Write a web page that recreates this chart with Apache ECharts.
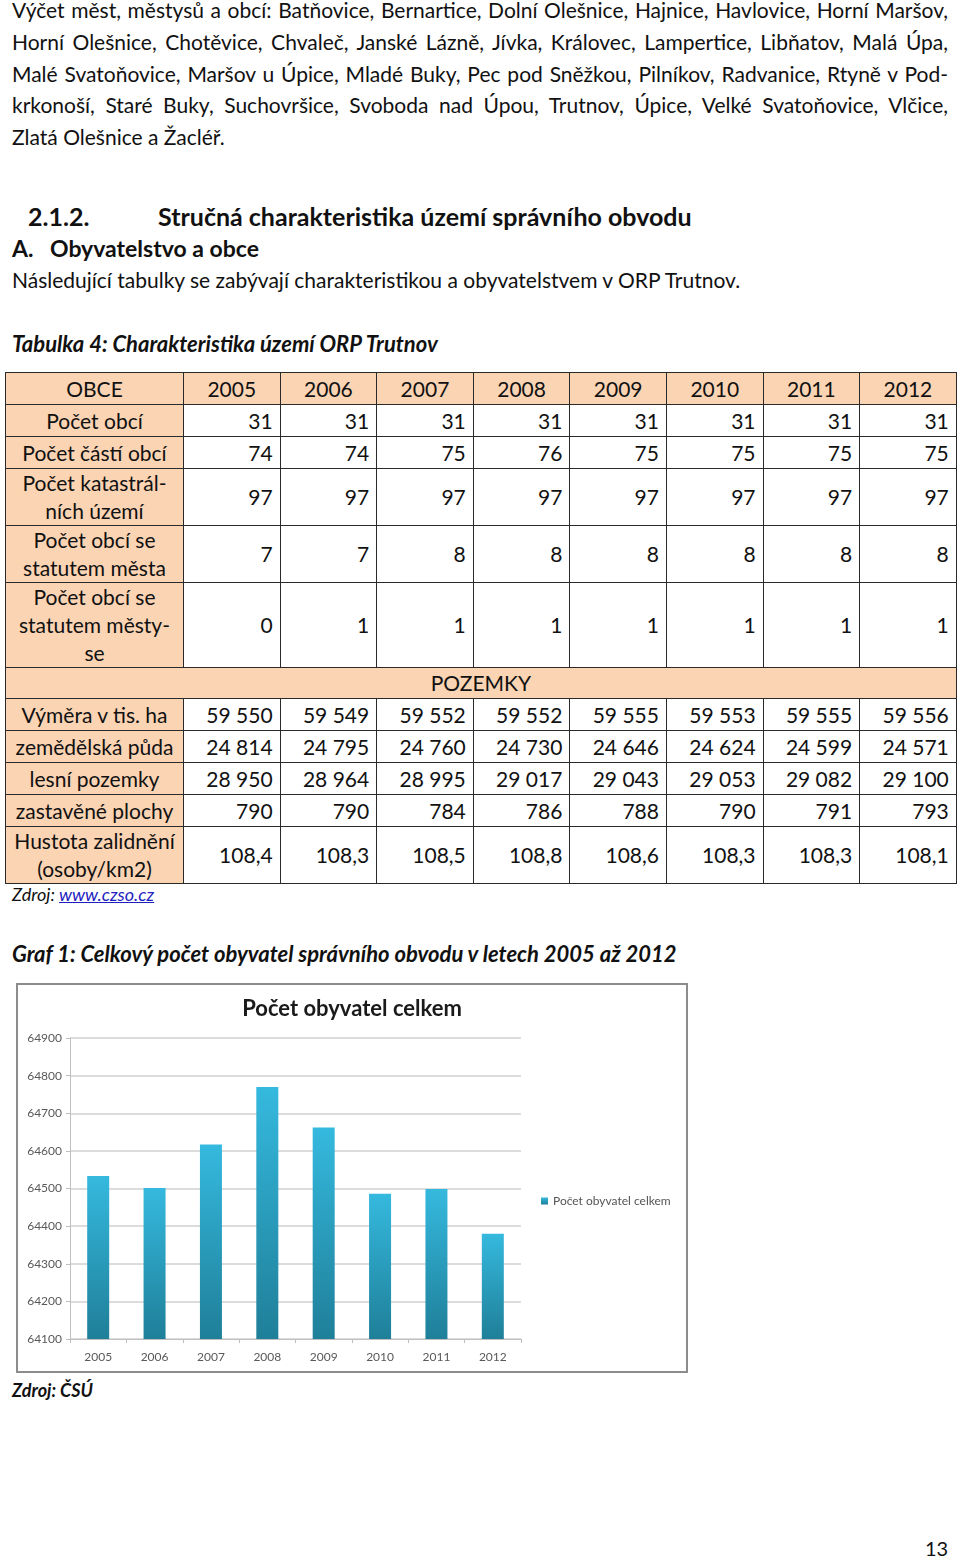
<!DOCTYPE html>
<html>
<head>
<meta charset="utf-8">
<script src="https://cdn.jsdelivr.net/npm/echarts@6/dist/echarts.min.js"></script>
<style>
  html, body { margin:0; padding:0; background:#fff; }
  body { width:960px; height:1557px; position:relative; overflow:hidden; font-family: Lato, "Noto Sans", sans-serif; color:#111; }
  .abs { position:absolute; white-space:nowrap; }
  .pline { position:absolute; left:12px; width:936px; font-size:21px; line-height:32px; text-align:justify; text-align-last:justify; white-space:nowrap; }
  .pline.last { text-align-last:left; }
  table { position:absolute; left:5px; top:372px; width:951px; border-collapse:collapse; table-layout:fixed; font-size:21px; }
  td { border:1.5px solid #2a2a2a; padding:0 7px; line-height:28px; overflow:hidden; }
  td.h { background:#fbd4b4; text-align:center; }
  td.v { text-align:right; }
  td.lab { background:#fbd4b4; text-align:center; white-space:normal; padding:0 1px; }
</style>
</head>
<body>
<div id="para"></div>

<div class="abs" style="left:28px; top:200px; font-size:25px; font-weight:700; line-height:32px;">2.1.2.</div>
<div class="abs" style="left:158px; top:200px; font-size:25px; font-weight:700; line-height:32px;">Stručná charakteristika území správního obvodu</div>
<div class="abs" style="left:12px; top:232px; font-size:23px; font-weight:700; line-height:32px;">A.</div>
<div class="abs" style="left:50px; top:232px; font-size:23px; font-weight:700; line-height:32px;">Obyvatelstvo a obce</div>
<div class="abs" style="left:12px; top:264px; font-size:21px; line-height:32px;">Následující tabulky se zabývají charakteristikou a obyvatelstvem v ORP Trutnov.</div>
<div class="abs" style="left:12px; top:328px; font-size:22px; font-weight:700; font-style:italic; line-height:32px;">Tabulka 4: Charakteristika území ORP Trutnov</div>

<table id="tbl"></table>

<div class="abs" style="left:12px; top:883px; font-size:18px; font-style:italic; line-height:22px;">Zdroj: <span style="color:#1f1fbf; text-decoration:underline;">www.czso.cz</span></div>
<div class="abs" style="left:12px; top:938px; font-size:22px; font-weight:700; font-style:italic; line-height:32px;">Graf 1: Celkový počet obyvatel správního obvodu v letech 2005 až 2012</div>

<div style="position:absolute; left:16px; top:983px; width:668px; height:386px; border:2px solid #8c8c8c;"></div>
<div id="chart" style="position:absolute; left:18px; top:985px; width:668px; height:386px;"></div>

<div class="abs" style="left:12px; top:1379px; font-size:18px; font-weight:700; font-style:italic; line-height:22px;">Zdroj: ČSÚ</div>
<div class="abs" style="left:925px; top:1536px; font-size:20px; line-height:24px;">13</div>

<script>
// ---------- text ----------
const paraLines = [
  "Výčet měst, městysů a obcí: Batňovice, Bernartice, Dolní Olešnice, Hajnice, Havlovice, Horní Maršov,",
  "Horní Olešnice, Chotěvice, Chvaleč, Janské Lázně, Jívka, Královec, Lampertice, Libňatov, Malá Úpa,",
  "Malé Svatoňovice, Maršov u Úpice, Mladé Buky, Pec pod Sněžkou, Pilníkov, Radvanice, Rtyně v Pod-",
  "krkonoší, Staré Buky, Suchovršice, Svoboda nad Úpou, Trutnov, Úpice, Velké Svatoňovice, Vlčice,",
  "Zlatá Olešnice a Žacléř."
];

// ---------- table data ----------
const tableYears = ["2005","2006","2007","2008","2009","2010","2011","2012"];
const obceHeader = "OBCE";
const pozemkyHeader = "POZEMKY";
const obceLabels = ["Počet obcí", "Počet částí obcí", "Počet katastrál-<br>ních území", "Počet obcí se<br>statutem města", "Počet obcí se<br>statutem městy-<br>se"];
const pocetObci = ["31","31","31","31","31","31","31","31"];
const pocetCasti = ["74","74","75","76","75","75","75","75"];
const pocetKatastr = ["97","97","97","97","97","97","97","97"];
const pocetMesta = ["7","7","8","8","8","8","8","8"];
const pocetMestyse = ["0","1","1","1","1","1","1","1"];
const pozemkyLabels = ["Výměra v tis. ha", "zemědělská půda", "lesní pozemky", "zastavěné plochy", "Hustota zalidnění<br>(osoby/km2)"];
const vymera = ["59 550","59 549","59 552","59 552","59 555","59 553","59 555","59 556"];
const zemedelska = ["24 814","24 795","24 760","24 730","24 646","24 624","24 599","24 571"];
const lesni = ["28 950","28 964","28 995","29 017","29 043","29 053","29 082","29 100"];
const zastavene = ["790","790","784","786","788","790","791","793"];
const hustota = ["108,4","108,3","108,5","108,8","108,6","108,3","108,3","108,1"];

// ---------- chart data ----------
const chartTitle = "Počet obyvatel celkem";
const seriesName = "Počet obyvatel celkem";
const chartYears = ["2005","2006","2007","2008","2009","2010","2011","2012"];
const obyvatel = [64533, 64501, 64617, 64770, 64662, 64486, 64499, 64380];

// build paragraph
const para = document.getElementById('para');
paraLines.forEach((t, i) => {
  const d = document.createElement('div');
  d.className = 'pline' + (i === paraLines.length - 1 ? ' last' : '');
  d.style.top = (-6 + i * 31.75) + 'px';
  d.textContent = t;
  para.appendChild(d);
});

// build table
const rowHeights = [32, 32, 32, 57, 57, 84, 31, 32, 32, 32, 32, 57];
const tbl = document.getElementById('tbl');
let html = '<colgroup><col style="width:178px">' + tableYears.map(() => '<col style="width:96.6px">').join('') + '</colgroup>';
let r = 0;
html += '<tr style="height:' + rowHeights[r++] + 'px"><td class="h">' + obceHeader + '</td>' + tableYears.map(y => '<td class="h">' + y + '</td>').join('') + '</tr>';
[pocetObci, pocetCasti, pocetKatastr, pocetMesta, pocetMestyse].forEach((vals, i) => {
  html += '<tr style="height:' + rowHeights[r++] + 'px"><td class="lab">' + obceLabels[i] + '</td>' + vals.map(v => '<td class="v">' + v + '</td>').join('') + '</tr>';
});
html += '<tr style="height:' + rowHeights[r++] + 'px"><td class="h" colspan="9">' + pozemkyHeader + '</td></tr>';
[vymera, zemedelska, lesni, zastavene, hustota].forEach((vals, i) => {
  html += '<tr style="height:' + rowHeights[r++] + 'px"><td class="lab">' + pozemkyLabels[i] + '</td>' + vals.map(v => '<td class="v">' + v + '</td>').join('') + '</tr>';
});
tbl.innerHTML = html;

// chart
const chart = echarts.init(document.getElementById('chart'));
chart.setOption({
  animation: false,
  textStyle: { fontFamily: 'Lato, "Noto Sans", sans-serif' },
  title: {
    text: chartTitle, left: 'center', top: 8,
    textStyle: { fontSize: 22, fontWeight: 'bold', color: '#1a1a1a', fontFamily: 'Lato, sans-serif' }
  },
  legend: {
    data: [seriesName], orient: 'vertical', left: 518, top: 205,
    icon: 'rect', itemWidth: 7, itemHeight: 7, itemGap: 4,
    textStyle: { fontSize: 12, color: '#555' }
  },
  grid: { left: 52, right: 165, top: 53, bottom: 32, containLabel: false },
  xAxis: {
    type: 'category', data: chartYears,
    axisLine: { lineStyle: { color: '#bfbfbf', width: 1 } },
    axisTick: { show: true, alignWithLabel: false, length: 4, lineStyle: { color: '#bfbfbf' } },
    axisLabel: { color: '#595959', fontSize: 12, margin: 12 }
  },
  yAxis: {
    type: 'value', min: 64100, max: 64900, interval: 100,
    axisLine: { show: true, lineStyle: { color: '#bfbfbf', width: 1 } },
    axisTick: { show: true, length: 4, lineStyle: { color: '#bfbfbf' } },
    axisLabel: { color: '#595959', fontSize: 12, margin: 8, formatter: v => String(v) },
    splitLine: { lineStyle: { color: '#d0d0d0', width: 1.5 } }
  },
  series: [{
    name: seriesName, type: 'bar', data: obyvatel, barWidth: 22,
    itemStyle: {
      color: new echarts.graphic.LinearGradient(0, 0, 0, 1, [
        { offset: 0, color: '#35b9de' },
        { offset: 1, color: '#1f7f99' }
      ])
    }
  }]
});
</script>
</body>
</html>
